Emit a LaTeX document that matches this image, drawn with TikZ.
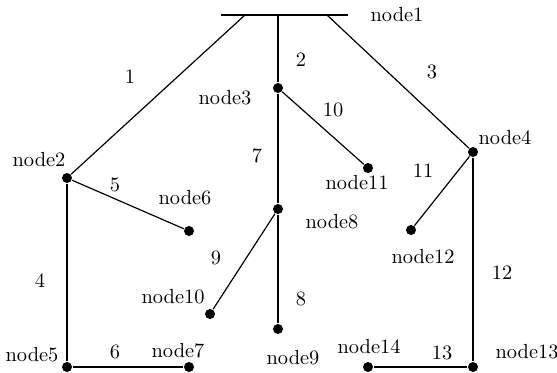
\documentclass[tikz,border=0pt]{standalone}
\usetikzlibrary{positioning}

\begin{document}
\begin{tikzpicture}[x=0.5pt,y=-0.5pt,line width=0.6pt,
    dot/.style={circle,fill,inner sep=0pt,minimum size=5pt},
    lbl/.style={font=\fontsize{10.2}{12}\selectfont,inner sep=1pt}]
  \useasboundingbox (0,0) rectangle (557,372);
  % bus bar (node1)
  \coordinate (bl) at (221,15);
  \coordinate (br) at (348,15);
  \coordinate (b1) at (245,15);
  \coordinate (b2) at (278,15);
  \coordinate (b3) at (327,15);
  \node[lbl] (t1) at (397,15) {node1};

  \node[dot] (n2) at (67,178) {};
  \node[dot] (n3) at (278,88) {};
  \node[dot] (n4) at (473,152) {};
  \node[dot] (n5) at (67,367) {};
  \node[dot] (n6) at (189,231) {};
  \node[dot] (n7) at (189,367) {};
  \node[dot] (n8) at (278,209) {};
  \node[dot] (n9) at (278,329) {};
  \node[dot] (n10) at (210,314) {};
  \node[dot] (n11) at (368,168) {};
  \node[dot] (n12) at (411,230) {};
  \node[dot] (n13) at (473,367) {};
  \node[dot] (n14) at (368,367) {};

  \node[lbl] (t2) at (39,160) {node2};
  \node[lbl] (t3) at (225,98) {node3};
  \node[lbl] (t4) at (505,138) {node4};
  \node[lbl] (t5) at (32,355) {node5};
  \node[lbl] (t6) at (185,198) {node6};
  \node[lbl] (t7) at (178,351) {node7};
  \node[lbl] (t8) at (332,222) {node8};
  \node[lbl] (t9) at (293,358) {node9};
  \node[lbl] (t10) at (173,297) {node10};
  \node[lbl] (t11) at (357,183) {node11};
  \node[lbl] (t12) at (423,257) {node12};
  \node[lbl] (t13) at (527,352) {node13};
  \node[lbl] (t14) at (369,347) {node14};

  % branch numbers
  \node[lbl] (e1) at (130,77) {1};
  \node[lbl] (e2) at (301,60) {2};
  \node[lbl] (e3) at (432,72) {3};
  \node[lbl] (e4) at (40,281) {4};
  \node[lbl] (e5) at (115,185) {5};
  \node[lbl] (e6) at (115,352) {6};
  \node[lbl] (e7) at (257,156) {7};
  \node[lbl] (e8) at (301,299) {8};
  \node[lbl] (e9) at (216,258) {9};
  \node[lbl] (e10) at (333,110) {10};
  \node[lbl] (e11) at (423,171) {11};
  \node[lbl] (e12) at (502,273) {12};
  \node[lbl] (e13) at (442,353) {13};

  \draw (bl) -- (br);
  \draw (b1) -- (n2);
  \draw (b2) -- (n3);
  \draw (b3) -- (n4);
  \draw (n2) -- (n5);
  \draw (n2) -- (n6);
  \draw (n5) -- (n7);
  \draw (n3) -- (n8);
  \draw (n8) -- (n9);
  \draw (n8) -- (n10);
  \draw (n3) -- (n11);
  \draw (n4) -- (n12);
  \draw (n4) -- (n13);
  \draw (n14) -- (n13);
\end{tikzpicture}
\end{document}
